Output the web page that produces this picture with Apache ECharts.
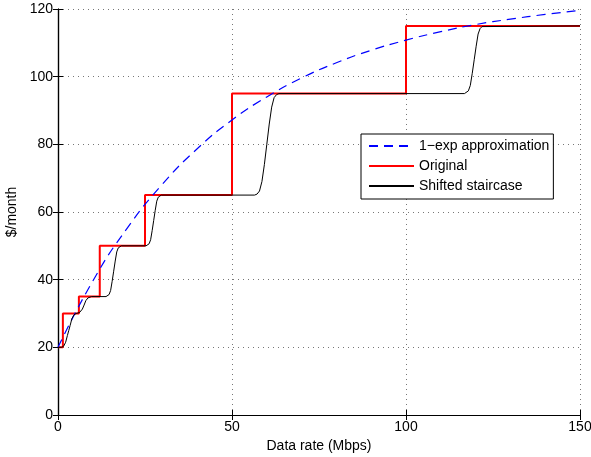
<!DOCTYPE html>
<html>
<head>
<meta charset="utf-8">
<script src="https://cdn.jsdelivr.net/npm/echarts@6/dist/echarts.min.js"></script>
<style>
  html, body { margin: 0; padding: 0; background: #fff; }
  #chart { width: 591px; height: 457px; }
</style>
</head>
<body>
<div id="chart"></div>
<script>
// 1-exp approximation
var approxX = [0, 10, 20, 30, 40, 50, 60, 70, 80, 90, 100, 110, 120, 130, 140, 150];
var approxY = [20, 39.6, 55.4, 68.2, 78.7, 87.2, 94.0, 99.6, 104.1, 107.8, 110.8, 113.3, 115.4, 117.0, 118.4, 119.6];

// original price staircase (value holds until next break)
var origX = [0, 1.4, 6, 12, 25, 50, 100, 150];
var origY = [20, 30, 35, 50, 65, 95, 115, 115];

// shifted, smoothed staircase
var shiftX = [0, 1.0, 1.6, 2.2, 2.7, 3.1, 3.5, 4.0, 4.6, 5.2,
              6.2, 7.0, 7.5, 8.0, 8.6, 9.6,
              13.8, 14.24, 14.68, 15.12, 15.56, 16.0, 16.44, 16.88, 17.32, 17.76, 18.2,
              25.3, 25.74, 26.18, 26.62, 27.06, 27.5, 27.94, 28.38, 28.82, 29.26, 29.7,
              56.5, 57.2, 57.9, 58.6, 59.3, 60.0, 60.7, 61.4, 62.1, 62.8, 63.5,
              116.8, 117.36, 117.92, 118.48, 119.04, 119.6, 120.16, 120.72, 121.28, 121.84, 122.4, 150];
var shiftY = [20, 20, 20.3, 21.5, 23.5, 25, 26.5, 28.5, 29.6, 30,
              30.3, 31.3, 32.5, 33.8, 34.6, 35,
              35, 35.15, 35.6, 36.8, 39.5, 42.5, 45.5, 48.2, 49.4, 49.85, 50,
              50, 50.15, 50.6, 51.8, 54.5, 57.5, 60.5, 63.2, 64.4, 64.85, 65,
              65, 65.3, 66.2, 69, 74, 80, 86, 91, 93.8, 94.7, 95,
              95, 95.2, 95.8, 97.4, 101, 105, 109, 112.6, 114.2, 114.8, 115, 115];

function pairs(xs, ys) {
  return xs.map(function (x, i) { return [x, ys[i]]; });
}

var chart = echarts.init(document.getElementById('chart'));
var font = 'Liberation Sans, Arial, Helvetica, sans-serif';

var option = {
  animation: false,
  backgroundColor: '#fff',
  textStyle: { fontFamily: font },
  grid: { left: 58, right: 11, top: 9, bottom: 42, outerBoundsMode: 'none', containLabel: false },
  legend: {
    orient: 'vertical',
    left: 361, top: 134,
    backgroundColor: '#fff',
    borderColor: '#000', borderWidth: 1, borderRadius: 0,
    padding: [5, 4, 6, 7],
    itemWidth: 45, itemHeight: 14, itemGap: 6,
    itemStyle: { opacity: 0 },
    textStyle: { fontSize: 14, color: '#000', fontFamily: font },
    data: ['1\u2212exp approximation', 'Original', 'Shifted staircase']
  },
  xAxis: [{
    type: 'value', min: 0, max: 150, interval: 50,
    name: 'Data rate (Mbps)', nameLocation: 'middle', nameGap: 24,
    nameTextStyle: { fontSize: 14, color: '#000' },
    axisLine: { lineStyle: { color: '#000', width: 1.2 } },
    axisTick: { inside: true, length: 5, lineStyle: { color: '#000' } },
    axisLabel: { fontSize: 14, color: '#000', margin: 5 },
    splitLine: { show: true, lineStyle: { color: '#777', type: [1, 4] } }
  }, {
    type: 'value', min: 0, max: 150, interval: 50, position: 'top',
    axisLine: { lineStyle: { color: '#000', width: 1.2 } },
    axisTick: { inside: true, length: 5, lineStyle: { color: '#000' } },
    axisLabel: { show: false }, splitLine: { show: false }
  }],
  yAxis: [{
    type: 'value', min: 0, max: 120, interval: 20,
    name: '$/month', nameLocation: 'middle', nameGap: 36,
    nameTextStyle: { fontSize: 14, color: '#000' },
    axisLine: { show: true, lineStyle: { color: '#000', width: 1.2 } },
    axisTick: { show: true, inside: true, length: 5, lineStyle: { color: '#000' } },
    axisLabel: { fontSize: 14, color: '#000', margin: 5 },
    splitLine: { show: true, lineStyle: { color: '#777', type: [1, 4] } }
  }, {
    type: 'value', min: 0, max: 120, interval: 20, position: 'right',
    axisLine: { show: true, lineStyle: { color: '#000', width: 1.2 } },
    axisTick: { show: true, inside: true, length: 5, lineStyle: { color: '#000' } },
    axisLabel: { show: false }, splitLine: { show: false }
  }],
  series: [{
    name: '1\u2212exp approximation',
    type: 'line', smooth: true, symbol: 'none', z: 3,
    lineStyle: { color: '#0000ff', width: 1.2, type: [9, 6] },
    itemStyle: { color: '#0000ff', opacity: 0 },
    data: pairs(approxX, approxY)
  }, {
    name: 'Original',
    type: 'line', step: 'end', symbol: 'none', z: 2,
    lineStyle: { color: '#ff0000', width: 2 },
    itemStyle: { color: '#ff0000', opacity: 0 },
    data: pairs(origX, origY)
  }, {
    name: 'Shifted staircase',
    type: 'line', symbol: 'none', z: 4,
    lineStyle: { color: '#000', width: 1 },
    itemStyle: { color: '#000', opacity: 0 },
    data: pairs(shiftX, shiftY)
  }]
};

chart.setOption(option);
</script>
</body>
</html>
